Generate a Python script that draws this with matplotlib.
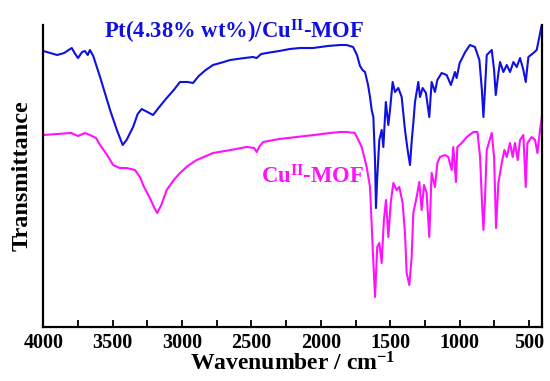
import matplotlib
matplotlib.use("Agg")
import matplotlib.pyplot as plt
from matplotlib.ticker import MultipleLocator

# Wavenumber (cm^-1) and transmittance (arbitrary units)
wn_pt = [4000, 3900, 3850, 3795, 3770, 3750, 3720, 3700, 3680, 3664, 3640, 3591, 3519, 3470, 3428,
         3400, 3353, 3320, 3291, 3250, 3209, 3170, 3111, 3060, 3015, 2960, 2921, 2880, 2830, 2777,
         2700, 2654, 2550, 2490, 2463, 2430, 2390, 2300, 2223, 2150, 2057, 1950, 1863, 1815, 1768,
         1740, 1718, 1700, 1682, 1660, 1646, 1634, 1622, 1610, 1603, 1595, 1579, 1562, 1550, 1532,
         1514, 1502, 1483, 1466, 1442, 1418, 1394, 1375, 1358, 1345, 1334, 1322, 1298, 1286, 1267,
         1243, 1219, 1202, 1178, 1161, 1130, 1094, 1063, 1034, 1022, 1000, 960, 926, 890, 858,
         840, 829, 818, 805, 769, 752, 740, 721, 709, 685, 661, 637, 613, 589, 565,
         541, 524, 505, 469, 445, 426, 409]
t_pt = [276, 272, 274, 279, 273, 269, 275, 276, 272, 277, 271, 250, 217, 197, 182,
        187, 200, 213, 218, 215, 212, 219, 229, 237, 245, 245, 244, 251, 257, 262,
        265, 267, 269, 270, 269, 273, 274, 276, 278, 279, 279, 281, 282, 282, 280,
        272, 261, 257, 255, 242, 230, 217, 210, 167, 119, 147, 187, 197, 180, 225,
        202, 217, 245, 235, 239, 230, 197, 177, 162, 187, 204, 225, 245, 230, 239,
        234, 210, 245, 235, 247, 254, 252, 242, 255, 249, 264, 275, 282, 280, 267,
        237, 210, 237, 272, 277, 257, 232, 254, 265, 255, 262, 255, 265, 260, 269,
        257, 245, 270, 274, 277, 290, 302]

wn_cu = [4000, 3900, 3800, 3750, 3700, 3664, 3620, 3591, 3540, 3497, 3450, 3400, 3339, 3300, 3281,
         3225, 3200, 3179, 3150, 3111, 3060, 3015, 2960, 2895, 2777, 2650, 2535, 2480, 2463, 2440,
         2416, 2300, 2174, 2050, 1934, 1863, 1815, 1755, 1706, 1670, 1646, 1627, 1610, 1594, 1579,
         1562, 1546, 1531, 1514, 1497, 1478, 1454, 1435, 1411, 1394, 1382, 1363, 1346, 1334, 1310,
         1291, 1274, 1257, 1238, 1219, 1202, 1178, 1161, 1142, 1106, 1082, 1058, 1046, 1027, 1017,
         985, 949, 901, 872, 853, 840, 829, 818, 805, 769, 752, 738, 721, 697, 678,
         661, 637, 618, 602, 582, 565, 541, 524, 512, 481, 457, 440, 421, 409]
t_cu = [192, 193, 194, 191, 194, 192, 189, 182, 172, 162, 159, 159, 157, 149, 142,
        127, 119, 114, 122, 137, 147, 154, 161, 167, 174, 177, 180, 179, 175, 181,
        185, 188, 190, 192, 194, 195, 195, 194, 180, 160, 140, 80, 30, 80, 84,
        64, 107, 127, 90, 124, 144, 137, 140, 124, 94, 54, 42, 70, 114, 130,
        145, 117, 142, 134, 90, 154, 140, 164, 170, 172, 170, 157, 180, 145, 180,
        184, 190, 195, 195, 170, 127, 97, 127, 177, 194, 170, 99, 144, 164, 177,
        170, 184, 170, 184, 167, 187, 192, 140, 184, 190, 187, 174, 197, 209]

label_pt = r"Pt(4.38% wt%)/Cu$^{\mathrm{II}}$-MOF"
label_cu = r"Cu$^{\mathrm{II}}$-MOF"
x_ticks = [4000, 3500, 3000, 2500, 2000, 1500, 1000, 500]

plt.rcParams['font.family'] = ['Liberation Serif']
plt.rcParams['font.weight'] = 'bold'
plt.rcParams['mathtext.fontset'] = 'custom'
plt.rcParams['mathtext.rm'] = 'Liberation Serif:bold'
plt.rcParams['mathtext.bf'] = 'Liberation Serif:bold'
plt.rcParams['mathtext.it'] = 'Liberation Serif:bold'
plt.rcParams['mathtext.default'] = 'rm'

fig = plt.figure(figsize=(5.5, 3.81), dpi=100)
ax = fig.add_axes([43.3 / 550, 1 - 327 / 381, (541.7 - 43.3) / 550, (327 - 25) / 381])

ax.plot(wn_pt, t_pt, color='#1010e0', lw=1.5)
ax.plot(wn_cu, t_cu, color='#ff10ff', lw=1.5)

ax.set_xlim(4000, 409)
ax.set_ylim(0, 302)
ax.set_xticks(x_ticks)
ax.xaxis.set_minor_locator(MultipleLocator(250))
ax.tick_params(axis='x', which='both', direction='in', length=5, width=1.3, labelsize=14.5, pad=4)
ax.tick_params(axis='y', left=False, labelleft=False)
for lab in ax.get_xticklabels():
    lab.set_fontweight('bold')

ax.spines['top'].set_visible(False)
for s in ['left', 'right', 'bottom']:
    ax.spines[s].set_linewidth(1.6)

ax.set_xlabel(r"Wavenumber / cm$^{-1}$", fontsize=17, fontweight='bold', labelpad=0)
ax.set_ylabel("Transmittance", fontsize=17.5, fontweight='bold', labelpad=8)

ax.text(1690, 295, label_pt, color='#1010e0', fontsize=16.3, fontweight='bold', ha='right', va='center')
ax.text(1690, 150, label_cu, color='#ff10ff', fontsize=16.3, fontweight='bold', ha='right', va='center')

fig.savefig("out.png", dpi=100)
